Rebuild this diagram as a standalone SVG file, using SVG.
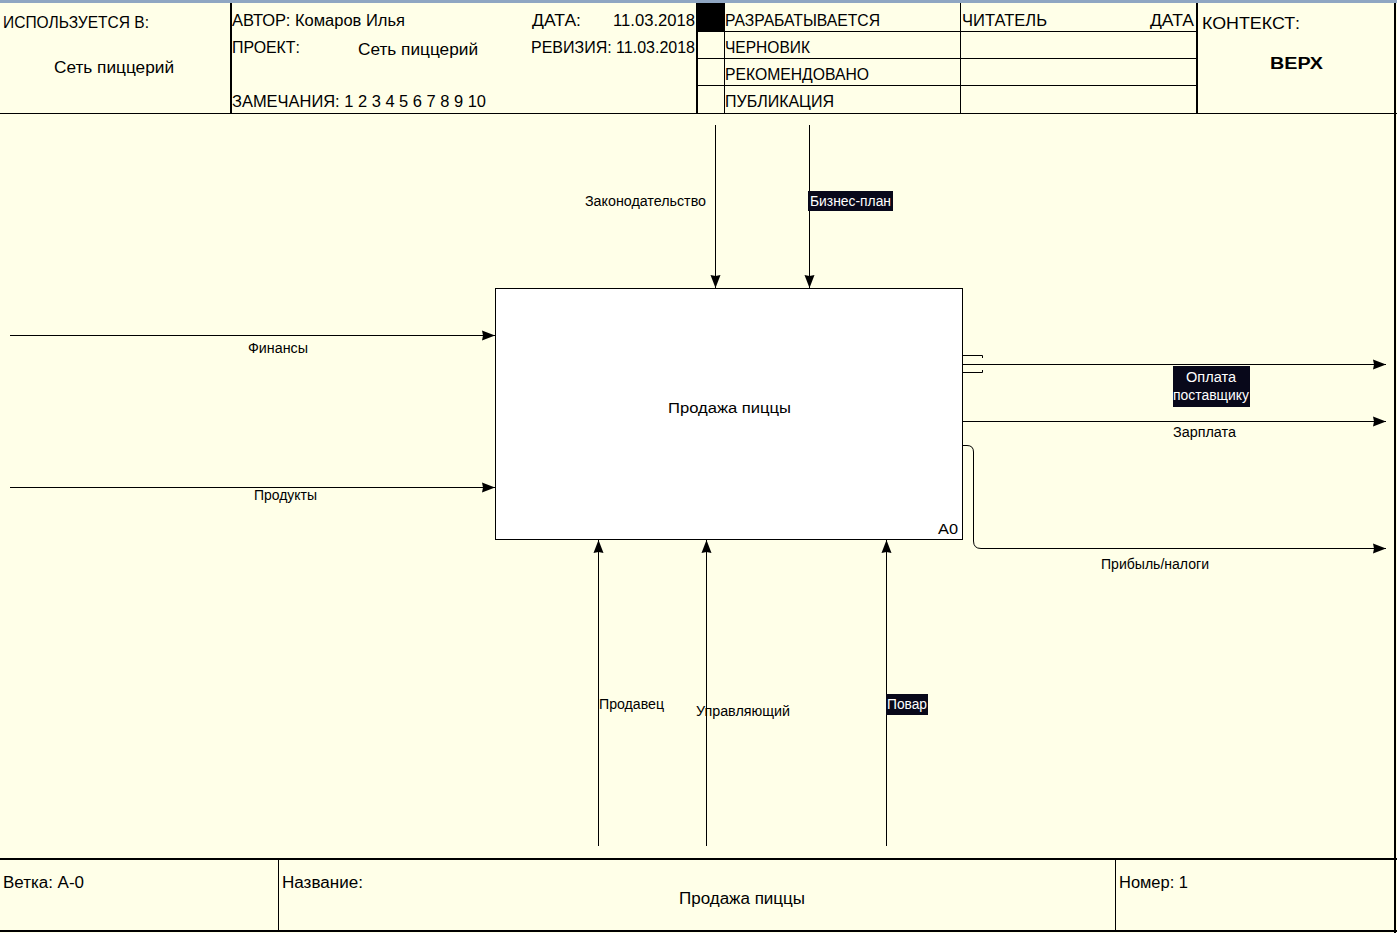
<svg xmlns="http://www.w3.org/2000/svg" width="1397" height="933" viewBox="0 0 1397 933">
  <style>
    .bg { fill: #FFFFE8; }
    .ln { stroke: #000; stroke-width: 1; fill: none; }
    .bd { stroke: #000; stroke-width: 2; fill: none; }
    .hd { font-family: "Liberation Sans", Arial, sans-serif; font-size: 16px; fill: #000; }
    .lb { font-family: "Liberation Sans", Arial, sans-serif; font-size: 14px; fill: #000; }
    .lw { font-family: "Liberation Sans", Arial, sans-serif; font-size: 14px; fill: #FFF; }
    .tag { fill: #08081A; }
    .arr { stroke: #000; stroke-width: 1; fill: none; marker-end: url(#head); }
  </style>
  <defs>
    <marker id="head" markerUnits="userSpaceOnUse" markerWidth="14" markerHeight="11" refX="13" refY="5.5" orient="auto">
      <path d="M0,0.5 L13,5.5 L0,10.5 L1,5.5 Z" fill="#000"/>
    </marker>
  </defs>

  <!-- sheet -->
  <rect class="bg" x="0" y="0" width="1397" height="933"/>
  <rect x="0" y="0" width="1397" height="3" fill="#8FA6C2"/>
  <line class="bd" x1="1395" y1="3" x2="1395" y2="933"/>

  <!-- title block, top -->
  <g id="header">
    <line class="ln" x1="0" y1="113.5" x2="1397" y2="113.5"/>
    <line class="bd" x1="231" y1="3" x2="231" y2="113"/>
    <line class="bd" x1="697" y1="3" x2="697" y2="113"/>
    <line class="ln" x1="724.5" y1="3" x2="724.5" y2="113"/>
    <line class="ln" x1="960.5" y1="3" x2="960.5" y2="113"/>
    <line class="bd" x1="1197" y1="3" x2="1197" y2="113"/>
    <line class="ln" x1="697" y1="31.5" x2="1197" y2="31.5"/>
    <line class="ln" x1="697" y1="58.5" x2="1197" y2="58.5"/>
    <line class="ln" x1="697" y1="85.5" x2="1197" y2="85.5"/>
    <rect x="697" y="3" width="27" height="28" fill="#000"/>

    <text class="hd" x="3" y="28" textLength="146" lengthAdjust="spacingAndGlyphs">ИСПОЛЬЗУЕТСЯ В:</text>
    <text class="hd" x="54" y="73" textLength="120" lengthAdjust="spacingAndGlyphs">Сеть пиццерий</text>
    <text class="hd" x="232" y="26" textLength="173" lengthAdjust="spacingAndGlyphs">АВТОР: Комаров Илья</text>
    <text class="hd" x="532" y="26" textLength="49" lengthAdjust="spacingAndGlyphs">ДАТА:</text>
    <text class="hd" x="613" y="26" textLength="82" lengthAdjust="spacingAndGlyphs">11.03.2018</text>
    <text class="hd" x="232" y="53" textLength="68" lengthAdjust="spacingAndGlyphs">ПРОЕКТ:</text>
    <text class="hd" x="358" y="55" textLength="120" lengthAdjust="spacingAndGlyphs">Сеть пиццерий</text>
    <text class="hd" x="531" y="53" textLength="164" lengthAdjust="spacingAndGlyphs">РЕВИЗИЯ: 11.03.2018</text>
    <text class="hd" x="232" y="107" textLength="254" lengthAdjust="spacingAndGlyphs">ЗАМЕЧАНИЯ: 1 2 3 4 5 6 7 8 9 10</text>

    <text class="hd" x="725" y="26" textLength="155" lengthAdjust="spacingAndGlyphs">РАЗРАБАТЫВАЕТСЯ</text>
    <text class="hd" x="725" y="53" textLength="85" lengthAdjust="spacingAndGlyphs">ЧЕРНОВИК</text>
    <text class="hd" x="725" y="80" textLength="144" lengthAdjust="spacingAndGlyphs">РЕКОМЕНДОВАНО</text>
    <text class="hd" x="725" y="107" textLength="109" lengthAdjust="spacingAndGlyphs">ПУБЛИКАЦИЯ</text>
    <text class="hd" x="962" y="26" textLength="85" lengthAdjust="spacingAndGlyphs">ЧИТАТЕЛЬ</text>
    <text class="hd" x="1150" y="26" textLength="44" lengthAdjust="spacingAndGlyphs">ДАТА</text>
    <text class="hd" x="1202" y="29" textLength="98" lengthAdjust="spacingAndGlyphs">КОНТЕКСТ:</text>
    <text class="hd" x="1270" y="69" font-weight="bold" textLength="53" lengthAdjust="spacingAndGlyphs">ВЕРХ</text>
  </g>

  <!-- activity box A0 -->
  <g id="A0">
    <rect x="495.5" y="288.5" width="467" height="251" fill="#FFF" stroke="#000" stroke-width="1"/>
    <text class="lb" x="668" y="413" font-size="15" textLength="123" lengthAdjust="spacingAndGlyphs">Продажа пиццы</text>
    <text class="lb" x="938" y="534" font-size="15" textLength="20" lengthAdjust="spacingAndGlyphs">А0</text>
  </g>

  <!-- arrows and their labels -->
  <g id="connectors">
    <!-- controls -->
    <line class="arr" x1="715.5" y1="125" x2="715.5" y2="288"/>
    <line class="arr" x1="809.5" y1="125" x2="809.5" y2="288"/>
    <!-- inputs -->
    <line class="arr" x1="10" y1="335.5" x2="495" y2="335.5"/>
    <line class="arr" x1="10" y1="487.5" x2="495" y2="487.5"/>
    <!-- outputs -->
    <line class="arr" x1="963" y1="364.5" x2="1386" y2="364.5"/>
    <path class="ln" d="M963,355.5 H982.5 V358 M963,372.5 H982.5 V370"/>
    <line class="arr" x1="963" y1="421.5" x2="1386" y2="421.5"/>
    <path class="arr" d="M963,445.5 H967 Q973.5,445.5 973.5,452 V541 Q973.5,548.5 981,548.5 H1386"/>
    <!-- mechanisms -->
    <line class="arr" x1="598.5" y1="846" x2="598.5" y2="540"/>
    <line class="arr" x1="706.5" y1="846" x2="706.5" y2="540"/>
    <line class="arr" x1="886.5" y1="846" x2="886.5" y2="540"/>

    <text class="lb" x="585" y="206" font-size="13" textLength="121" lengthAdjust="spacingAndGlyphs">Законодательство</text>
    <rect class="tag" x="808" y="191" width="85" height="20"/>
    <text class="lw" x="810" y="206" font-size="13" textLength="81" lengthAdjust="spacingAndGlyphs">Бизнес-план</text>
    <text class="lb" x="248" y="353" font-size="13" textLength="60" lengthAdjust="spacingAndGlyphs">Финансы</text>
    <text class="lb" x="254" y="500" font-size="13" textLength="63" lengthAdjust="spacingAndGlyphs">Продукты</text>
    <rect class="tag" x="1173" y="366" width="77" height="41"/>
    <text class="lw" x="1186" y="382" font-size="13" textLength="50" lengthAdjust="spacingAndGlyphs">Оплата</text>
    <text class="lw" x="1173" y="400" font-size="13" textLength="76" lengthAdjust="spacingAndGlyphs">поставщику</text>
    <text class="lb" x="1173" y="437" font-size="13" textLength="63" lengthAdjust="spacingAndGlyphs">Зарплата</text>
    <text class="lb" x="1101" y="569" font-size="13" textLength="108" lengthAdjust="spacingAndGlyphs">Прибыль/налоги</text>
    <text class="lb" x="599" y="709" font-size="13" textLength="65" lengthAdjust="spacingAndGlyphs">Продавец</text>
    <text class="lb" x="696" y="716" font-size="13" textLength="94" lengthAdjust="spacingAndGlyphs">Управляющий</text>
    <rect class="tag" x="886" y="694" width="42" height="21"/>
    <text class="lw" x="887" y="709" font-size="13" textLength="40" lengthAdjust="spacingAndGlyphs">Повар</text>
  </g>

  <!-- title block, bottom -->
  <g id="footer">
    <line class="bd" x1="0" y1="859" x2="1397" y2="859"/>
    <line class="bd" x1="0" y1="931" x2="1397" y2="931"/>
    <line class="ln" x1="278.5" y1="859" x2="278.5" y2="931"/>
    <line class="ln" x1="1115.5" y1="859" x2="1115.5" y2="931"/>
    <text class="hd" x="3" y="888" textLength="81" lengthAdjust="spacingAndGlyphs">Ветка: А-0</text>
    <text class="hd" x="282" y="888" textLength="81" lengthAdjust="spacingAndGlyphs">Название:</text>
    <text class="hd" x="679" y="904" textLength="126" lengthAdjust="spacingAndGlyphs">Продажа пиццы</text>
    <text class="hd" x="1119" y="888" textLength="69" lengthAdjust="spacingAndGlyphs">Номер: 1</text>
  </g>
</svg>
